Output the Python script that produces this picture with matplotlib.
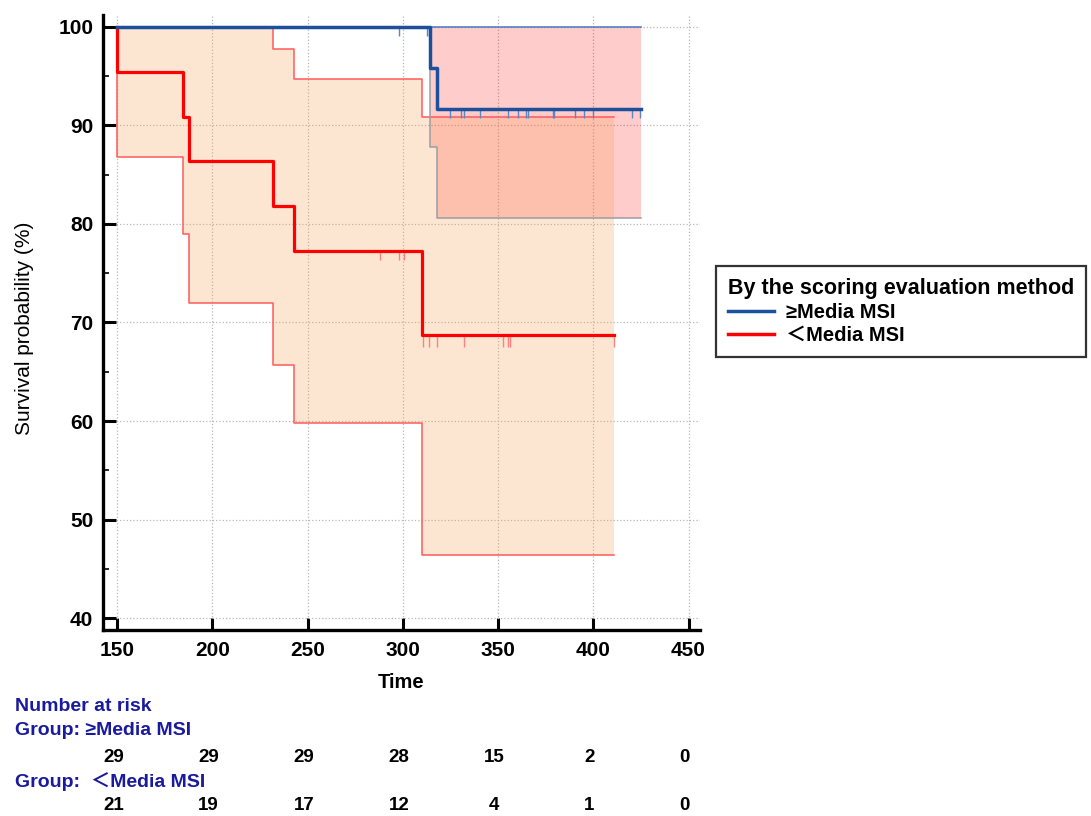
import matplotlib
matplotlib.use("Agg")
import matplotlib.pyplot as plt
from matplotlib.ticker import MultipleLocator
from matplotlib.lines import Line2D
from matplotlib.transforms import blended_transform_factory

plt.rcParams['font.family'] = ['Liberation Sans', 'Noto Sans CJK SC', 'DejaVu Sans']

# --- Kaplan-Meier curves ---
# group >= median MSI
hi_t = [150, 314.5, 318, 425]
hi_surv = [100, 95.8, 91.7, 91.7]
hi_ci_low = [100, 87.8, 80.6, 80.6]
hi_ci_up = [100, 100, 100, 100]
hi_cens_top = [298, 312.5, 313.5]
hi_cens = [324.7, 330.5, 332, 340.5, 355, 360.5, 364.7, 365.8, 379, 379.5,
           390.5, 395, 400, 420.5, 424.7]

# group < median MSI
lo_t = [150, 150, 184.5, 188, 232, 243, 310, 411]
lo_surv = [100, 95.45, 90.9, 86.36, 81.8, 77.27, 68.7, 68.7]
lo_ci_low = [100, 86.8, 79.0, 72.0, 65.7, 59.8, 46.4, 46.4]
lo_ci_up = [100, 100, 100, 100, 97.8, 94.7, 90.9, 90.9]
lo_cens_mid = [288, 298, 300.5]
lo_cens = [310.5, 314, 318, 332.3, 352.5, 355, 356.5, 411]

# number at risk table
risk_times = [150, 200, 250, 300, 350, 400, 450]
risk_hi = [29, 29, 29, 28, 15, 2, 0]
risk_lo = [21, 19, 17, 12, 4, 1, 0]

BLUE = '#1c4f9c'
RED = '#ff0000'
TXT_BLUE = '#1a1a9e'

fig = plt.figure(figsize=(10.91, 8.16), dpi=100)
ax = fig.add_axes([0.0944, 0.228, 0.5472, 0.7536])

# confidence bands
ax.fill_between(hi_t, hi_ci_low, hi_ci_up, step='post', color=(1.0, 0.0, 0.0),
                alpha=0.2, linewidth=0, zorder=1)
ax.fill_between(lo_t, lo_ci_low, lo_ci_up, step='post', color=(0.97, 0.62, 0.3),
                alpha=0.25, linewidth=0, zorder=2)

# confidence limits
ax.step(lo_t, lo_ci_up, where='post', color='#ff5a5a', lw=1.1, zorder=3)
ax.step(lo_t, lo_ci_low, where='post', color='#ff5a5a', lw=1.1, zorder=3)
ax.step(hi_t, hi_ci_low, where='post', color='#9c9ca6', lw=1.1, zorder=3)
ax.step(hi_t, hi_ci_up, where='post', color='#4a78c4', lw=1.1, zorder=3)

# survival curves
ax.step(lo_t, lo_surv, where='post', color=RED, lw=2.3, zorder=5)
ax.step(hi_t, hi_surv, where='post', color=BLUE, lw=2.5, zorder=6)

# censor marks
tick_len = 0.9
ax.vlines(hi_cens_top, hi_surv[0] - tick_len, hi_surv[0], color='#5a86c8', lw=1.0, zorder=4)
ax.vlines(hi_cens, hi_surv[-1] - tick_len, hi_surv[-1], color='#5a86c8', lw=1.0, zorder=4)
ax.vlines(lo_cens_mid, lo_surv[5] - tick_len, lo_surv[5], color='#ff8080', lw=1.0, zorder=4)
ax.vlines(lo_cens, lo_surv[-1] - tick_len * 1.3, lo_surv[-1], color='#ff8080', lw=1.0, zorder=4)

# axes styling
ax.set_xlim(142.6, 456)
ax.set_ylim(38.8, 101.2)
ax.xaxis.set_major_locator(MultipleLocator(50))
ax.yaxis.set_major_locator(MultipleLocator(10))
ax.yaxis.set_minor_locator(MultipleLocator(5))
ax.grid(True, which='major', linestyle=':', color='#b8b8b8', lw=0.9, zorder=0)
ax.set_axisbelow(True)
for side in ('top', 'right'):
    ax.spines[side].set_visible(False)
for side in ('left', 'bottom'):
    ax.spines[side].set_linewidth(2.4)
ax.tick_params(axis='both', which='major', direction='in', length=9, width=2.2,
               labelsize=15)
ax.tick_params(axis='x', which='major', pad=8)
ax.tick_params(axis='y', which='major', pad=7)
ax.tick_params(axis='y', which='minor', direction='in', length=4, width=1.2)
for lab in ax.get_xticklabels() + ax.get_yticklabels():
    lab.set_fontweight('bold')

ax.set_xlabel('Time', fontsize=14.5, fontweight='bold')
ax.xaxis.set_label_coords(0.5, -0.07)
ax.set_ylabel('Survival probability (%)', fontsize=15)
ax.yaxis.set_label_coords(-0.115, 0.49)

# legend
handles = [Line2D([], [], color=BLUE, lw=2.5), Line2D([], [], color=RED, lw=2.5)]
leg = fig.legend(handles, ['≥Media MSI', '＜Media MSI'],
                 title='By the scoring evaluation method',
                 loc='upper left', bbox_to_anchor=(0.656, 0.674),
                 borderaxespad=0,
                 fancybox=False, framealpha=1, edgecolor='#333333',
                 prop={'size': 14.5, 'weight': 'bold'},
                 title_fontproperties={'size': 15.5, 'weight': 'bold'},
                 handlelength=2.3, handletextpad=0.6, labelspacing=0.2,
                 borderpad=0.6, alignment='left')
leg.get_frame().set_linewidth(1.6)

# number at risk table
tr = blended_transform_factory(ax.transData, fig.transFigure)
lab_kw = dict(color=TXT_BLUE, fontsize=14, fontweight='bold', va='center')
fig.text(0.014, 0.1348, 'Number at risk', **lab_kw)
fig.text(0.014, 0.1042, 'Group: ≥Media MSI', **lab_kw)
fig.text(0.014, 0.0417, 'Group:  ＜Media MSI', **lab_kw)
for t, n1, n2 in zip(risk_times, risk_hi, risk_lo):
    ax.text(t - 2, 0.0723, str(n1), transform=tr, ha='center', va='center',
            fontsize=13.5, fontweight='bold')
    ax.text(t - 2, 0.0123, str(n2), transform=tr, ha='center', va='center',
            fontsize=13.5, fontweight='bold')

fig.savefig('out.png', dpi=100)
